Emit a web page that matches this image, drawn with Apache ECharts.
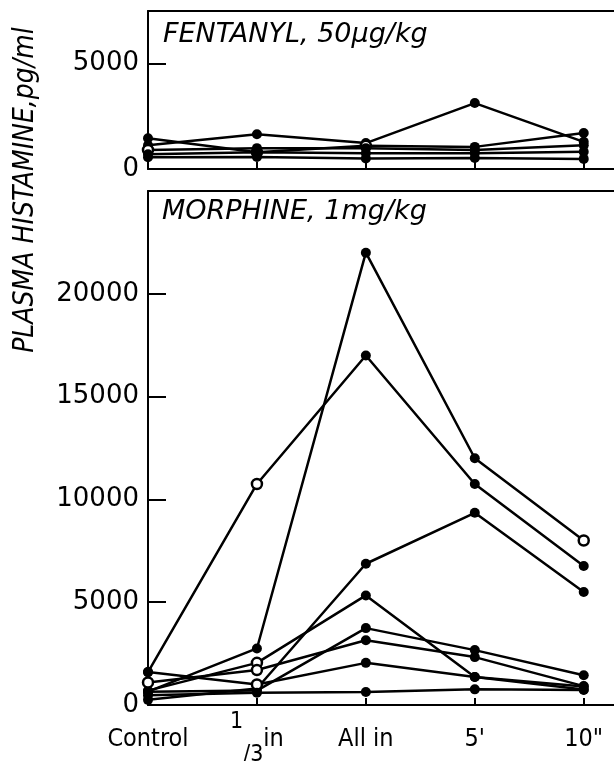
<!DOCTYPE html>
<html><head><meta charset="utf-8">
<script src="https://cdn.jsdelivr.net/npm/echarts/dist/echarts.min.js"></script>
<style>html,body{margin:0;padding:0;background:#fff}#c{width:614px;height:761px}</style>
</head><body><div id="c"></div>
<script>
const categories = ['Control', '1/3 in', 'All in', "5'", '10"'];
const categoryPositions = [0, 1, 2, 3, 4];

// Fentanyl 50 µg/kg (pg/ml)
const fentanyl1 = [1130, 1650, 1230, 3130, 1290];
const fentanyl2 = [1460, 800, 1100, 1050, 1710];
const fentanyl3 = [900, 990, 990, 900, 1130];
const fentanyl4 = [700, 800, 750, 750, 820];
const fentanyl5 = [560, 570, 500, 520, 480];

// Morphine 1 mg/kg (pg/ml)
const morphine1 = [650, 2750, 22000, 12000, 8000];
const morphine2 = [1600, 10750, 17000, 10750, 6760];
const morphine3 = [250, 800, 6870, 9350, 5500];
const morphine4 = [700, 2050, 5330, 1360, 900];
const morphine5 = [650, 700, 3740, 2670, 1450];
const morphine6 = [1100, 1700, 3150, 2330, 920];
const morphine7 = [1600, 1000, 2050, 1360, 750];
const morphine8 = [480, 600, 630, 760, 730];

const fentanylTickValues = [0, 5000];
const morphineTickValues = [0, 5000, 10000, 15000, 20000];
const fentanylMax = 7500;
const morphineMax = 25000;

const fentanylSeries = [fentanyl1, fentanyl2, fentanyl3, fentanyl4, fentanyl5];
const morphineSeries = [morphine1, morphine2, morphine3, morphine4, morphine5, morphine6, morphine7, morphine8];

// marker style: points drawn as open circles (series index -> point indexes)
const fentanylOpen = { 1: [1, 2], 2: [0] };
const morphineOpen = { 0: [4], 1: [1], 3: [1], 5: [0, 1], 6: [1] };

const NUM_FONT = 'DejaVu Sans';
const TXT_FONT = "'DejaVu Sans Condensed', 'DejaVu Sans', sans-serif";
const X_MAX = 4.333;

function xLabel(val) {
  const i = Math.round(val);
  if (Math.abs(val - i) > 1e-6 || i < 0 || i >= categories.length) return '';
  const c = categories[i];
  if (c.indexOf('/') >= 0) {
    const parts = c.split('/');
    const rest = parts[1].trim();
    return '{n|' + parts[0] + '}{s|/}{d|' + rest[0] + '}{t|' + rest.slice(1).trim() + '}';
  }
  return '{t|' + c + '}';
}

function makeX(gridIndex, showLabels) {
  return {
    type: 'value', gridIndex, min: 0, max: X_MAX, position: 'bottom',
    axisLine: { show: true, onZero: false, lineStyle: { color: '#000', width: 2 } },
    axisTick: { show: true, inside: true, length: 7, customValues: categoryPositions, lineStyle: { color: '#000', width: 2 } },
    splitLine: { show: false },
    axisLabel: showLabels ? {
      show: true, margin: 6, customValues: categoryPositions,
      formatter: xLabel, color: '#000',
      rich: {
        t: { fontSize: 25, lineHeight: 56, fontFamily: TXT_FONT, color: '#000' },
        n: { fontSize: 23, lineHeight: 22, verticalAlign: 'top', fontFamily: TXT_FONT, color: '#000' },
        s: { fontSize: 23, lineHeight: 48, verticalAlign: 'bottom', fontFamily: TXT_FONT, color: '#000' },
        d: { fontSize: 23, lineHeight: 24, verticalAlign: 'bottom', fontFamily: TXT_FONT, color: '#000' }
      }
    } : { show: false }
  };
}

function makeTopFrame(gridIndex) {
  return {
    type: 'value', gridIndex, min: 0, max: X_MAX, position: 'top',
    axisLine: { show: true, onZero: false, lineStyle: { color: '#000', width: 2 } },
    axisTick: { show: false }, axisLabel: { show: false }, splitLine: { show: false }
  };
}

function makeY(gridIndex, ticks, max) {
  return {
    type: 'value', gridIndex, min: 0, max: max,
    axisLine: { show: true, lineStyle: { color: '#000', width: 2 } },
    axisTick: { show: true, inside: true, length: 18, customValues: ticks, lineStyle: { color: '#000', width: 2 } },
    splitLine: { show: false },
    axisLabel: { show: true, margin: 9, customValues: ticks, color: '#000', fontSize: 26, fontFamily: NUM_FONT,
      formatter: v => String(v) }
  };
}

function makeSeries(arr, idx, openMap) {
  return arr.map((vals, s) => ({
    type: 'line', xAxisIndex: idx, yAxisIndex: idx,
    data: vals.map((v, i) => {
      const item = { value: [categoryPositions[i], v] };
      if (openMap[s] && openMap[s].indexOf(i) >= 0) {
        item.itemStyle = { color: '#fff', borderColor: '#000', borderWidth: 2.5 };
      }
      return item;
    }),
    symbol: 'circle', symbolSize: 10,
    lineStyle: { color: '#000', width: 2.5 },
    itemStyle: { color: '#000' },
    animation: false, silent: true
  }));
}

const chart = echarts.init(document.getElementById('c'), null, { renderer: 'canvas' });
chart.setOption({
  backgroundColor: '#fff',
  animation: false,
  title: [
    { text: 'FENTANYL, 50\u03bcg/kg', left: 163, top: 21, padding: 0,
      textStyle: { fontStyle: 'italic', fontWeight: 'normal', fontSize: 27, fontFamily: 'DejaVu Sans', color: '#000' } },
    { text: 'MORPHINE, 1mg/kg', left: 162, top: 198, padding: 0,
      textStyle: { fontStyle: 'italic', fontWeight: 'normal', fontSize: 27, fontFamily: 'DejaVu Sans', color: '#000' } }
  ],
  grid: [
    { left: 148, top: 11, height: 158, width: 472, show: false, containLabel: false, outerBoundsMode: 'none' },
    { left: 148, top: 191, height: 514, width: 472, show: false, containLabel: false, outerBoundsMode: 'none' }
  ],
  xAxis: [makeX(0, false), makeX(1, true), makeTopFrame(0), makeTopFrame(1)],
  yAxis: [makeY(0, fentanylTickValues, fentanylMax), makeY(1, morphineTickValues, morphineMax)],
  graphic: [{
    type: 'text', x: 26, y: 190, rotation: Math.PI / 2,
    style: { text: 'PLASMA HISTAMINE,pg/ml', font: "italic 28px 'DejaVu Sans Condensed'", fill: '#000', align: 'center', verticalAlign: 'middle' }
  }],
  series: makeSeries(fentanylSeries, 0, fentanylOpen).concat(makeSeries(morphineSeries, 1, morphineOpen))
});
</script></body></html>
